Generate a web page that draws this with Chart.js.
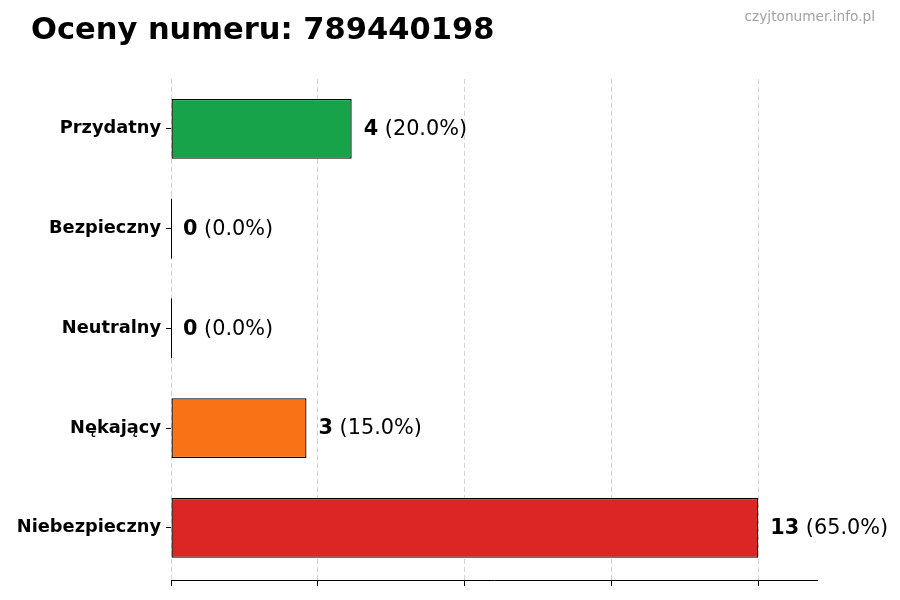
<!DOCTYPE html>
<html>
<head>
<meta charset="utf-8">
<script src="https://cdn.jsdelivr.net/npm/chart.js@4"></script>
<style>
  body { margin: 0; background: #fff; }
  #wrap { width: 900px; height: 600px; }
</style>
</head>
<body>
<div id="wrap"><canvas id="oceny"></canvas></div>
<script>
const categories = ['Przydatny', 'Bezpieczny', 'Neutralny', 'Nękający', 'Niebezpieczny'];
const counts = [4, 0, 0, 3, 13];
const barColors = ['#16a34a', '#9ca3af', '#6b7280', '#f97316', '#dc2626'];
const xTicks = [0, 3.25, 6.5, 9.75, 13];
const xMax = 14.3;
const titleText = 'Oceny numeru: 789440198';
const watermark = 'czyjtonumer.info.pl';

const total = counts.reduce((a, b) => a + b, 0);
const FONT = "'DejaVu Sans', sans-serif";

// title + watermark
const headerPlugin = {
  id: 'header',
  afterDraw(chart) {
    const c = chart.ctx;
    c.save();
    c.fillStyle = '#000';
    c.font = 'bold 30.5px ' + FONT;
    c.textAlign = 'left';
    c.textBaseline = 'middle';
    c.fillText(titleText, 31, 31);
    c.fillStyle = '#a3a3a3';
    c.font = '13.7px ' + FONT;
    c.textAlign = 'right';
    c.fillText(watermark, 875, 17);
    c.restore();
  }
};

// "4 (20.0%)" labels at the end of each bar, plus the edge of empty bars
const valueLabels = {
  id: 'valueLabels',
  afterDraw(chart) {
    const c = chart.ctx;
    const meta = chart.getDatasetMeta(0);
    c.save();
    c.textBaseline = 'middle';
    c.textAlign = 'left';
    meta.data.forEach((bar, i) => {
      if (counts[i] === 0) {
        c.strokeStyle = '#000';
        c.lineWidth = 1;
        c.beginPath();
        c.moveTo(bar.x + 0.5, bar.y - bar.height / 2);
        c.lineTo(bar.x + 0.5, bar.y + bar.height / 2);
        c.stroke();
      }
      const x = bar.x + 12;
      const y = bar.y + 1;
      const num = String(counts[i]);
      const pct = ' (' + (counts[i] / total * 100).toFixed(1) + '%)';
      c.fillStyle = '#000';
      c.font = 'bold 20.8px ' + FONT;
      c.fillText(num, x, y);
      const w = c.measureText(num).width;
      c.font = '20.8px ' + FONT;
      c.fillText(pct, x + w, y);
    });
    c.restore();
  }
};

new Chart(document.getElementById('oceny'), {
  type: 'bar',
  data: {
    labels: categories,
    datasets: [{
      data: counts,
      backgroundColor: barColors,
      borderColor: '#000',
      borderWidth: 1.3,
      borderSkipped: false,
      barPercentage: 0.6,
      categoryPercentage: 1.0
    }]
  },
  options: {
    indexAxis: 'y',
    responsive: true,
    maintainAspectRatio: false,
    animation: false,
    devicePixelRatio: 1,
    layout: { padding: { top: 79, right: 83, bottom: 0, left: 0 } },
    plugins: {
      legend: { display: false },
      tooltip: { enabled: false }
    },
    scales: {
      x: {
        type: 'linear',
        min: 0,
        max: xMax,
        z: 1,
        afterBuildTicks(scale) {
          scale.ticks = xTicks.map(v => ({ value: v }));
        },
        afterFit(scale) { scale.height = 20; },
        ticks: { display: false },
        grid: {
          color: 'rgba(200,200,200,0.8)',
          drawTicks: true,
          tickLength: 6,
          tickColor: '#000',
          tickBorderDash: [],
          tickWidth: 1
        },
        border: { display: true, color: '#000', width: 1, dash: [5, 3] }
      },
      y: {
        // a little extra room below the last bar, like the original
        afterBuildTicks(scale) { scale._valueRange += 0.023; },
        afterFit(scale) { scale.width = 171; },
        ticks: {
          color: '#000',
          padding: 5,
          font: { family: FONT, size: 17.8, weight: 'bold' }
        },
        grid: {
          display: true,
          offset: false,
          drawOnChartArea: false,
          drawTicks: true,
          tickLength: 5,
          tickColor: '#000'
        },
        border: { display: false }
      }
    }
  },
  plugins: [headerPlugin, valueLabels]
});
</script>
</body>
</html>
